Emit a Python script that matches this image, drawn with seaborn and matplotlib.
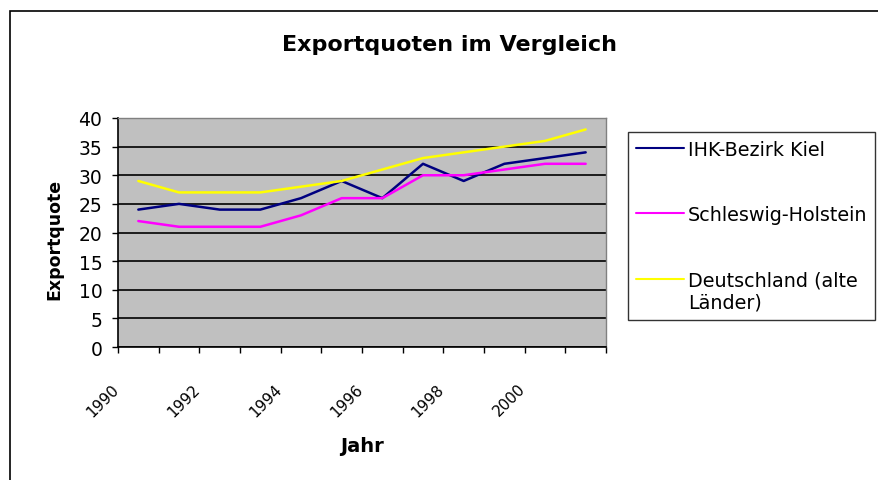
import numpy as np
import pandas as pd
import seaborn as sns
import matplotlib
matplotlib.use("Agg")
import matplotlib.pyplot as plt
from matplotlib.patches import Rectangle
from matplotlib.transforms import ScaledTranslation

# Exportquoten (in %)
years = list(range(1990, 2002))
kiel = [24, 25, 24, 24, 26, 29, 26, 32, 29, 32, 33, 34]
schleswig_holstein = [22, 21, 21, 21, 23, 26, 26, 30, 30, 31, 32, 32]
deutschland = [29, 27, 27, 27, 28, 29, 31, 33, 34, 35, 36, 38]
series_names = ["IHK-Bezirk Kiel", "Schleswig-Holstein", "Deutschland (alte\nLänder)"]
series_colors = ["#000080", "#FF00FF", "#FFFF00"]
year_labels = ["1990", "1992", "1994", "1996", "1998", "2000"]
y_ticks = [0, 5, 10, 15, 20, 25, 30, 35, 40]

df = pd.DataFrame({
    "Jahr": years * 3,
    "Exportquote": kiel + schleswig_holstein + deutschland,
    "Reihe": [n for n in series_names for _ in years],
})

sns.set_style("white")
plt.rcParams["font.family"] = ["DejaVu Sans"]
plt.rcParams.update({"text.color": "black", "axes.labelcolor": "black",
                     "xtick.color": "black", "ytick.color": "black"})

W, H = 879, 481
fig = plt.figure(figsize=(W / 100, H / 100), dpi=100)
ax = fig.add_axes([118 / W, 1 - 348 / H, 488 / W, 229 / H])
ax.set_facecolor("#C0C0C0")

sns.lineplot(data=df, x="Jahr", y="Exportquote", hue="Reihe",
             hue_order=series_names, palette=series_colors,
             linewidth=1.8, ax=ax)

# category boundaries as tick marks, every 2nd one labelled
bounds = [years[0] - 0.5 + k for k in range(len(years) + 1)]
lab_map = {int(y): y for y in year_labels}
ax.set_xticks(bounds)
ax.set_xticklabels([lab_map.get(int(b + 0.5), "") for b in bounds])
ax.set_xlim(bounds[0], bounds[-1])
ax.set_ylim(0, 40)
ax.set_yticks(y_ticks)

ax.tick_params(axis="x", direction="out", length=4.3, width=1, pad=20,
               labelsize=11, labelrotation=45, bottom=True)
shift = ScaledTranslation(4 / 100, 0, fig.dpi_scale_trans)
for t in ax.get_xticklabels():
    t.set_ha("right")
    t.set_transform(t.get_transform() + shift)
ax.tick_params(axis="y", direction="out", length=4.3, width=1, pad=7,
               labelsize=13.5, left=True)

ax.yaxis.grid(True, color="black", linewidth=1.2)
ax.xaxis.grid(False)
for s in ["left", "bottom"]:
    ax.spines[s].set_color("black")
    ax.spines[s].set_linewidth(1.2)
for s in ["top", "right"]:
    ax.spines[s].set_color("#808080")
    ax.spines[s].set_linewidth(1.0)

ax.set_xlabel("Jahr", fontsize=14, fontweight="bold", va="center")
ax.xaxis.set_label_coords(0.5, (348 - 447) / 229)
ax.set_ylabel("Exportquote", fontsize=12.5, fontweight="bold", va="center")
ax.yaxis.set_label_coords((54 - 118) / 488, (348 - 239) / 229)

fig.text(450 / W, 1 - 45 / H, "Exportquoten im Vergleich", fontsize=16,
         fontweight="bold", ha="center", va="center")

handles, labels = ax.get_legend_handles_labels()
leg = ax.legend(handles, labels, loc="upper left",
                bbox_to_anchor=(628 / W, 1 - 133 / H),
                bbox_transform=fig.transFigure, borderaxespad=0,
                fontsize=13.8, frameon=True, fancybox=False, shadow=False,
                borderpad=0.42, labelspacing=2.4, handlelength=2.5,
                handletextpad=0.2)
leg.get_frame().set_edgecolor("black")
leg.get_frame().set_linewidth(1.0)
leg.get_frame().set_facecolor("white")
for t in leg.get_texts():
    t.set_linespacing(1.25)
for ln in leg.get_lines():
    ln.set_linewidth(1.5)
# put the handle of the two-line entry next to its first line
ln3 = leg.get_lines()[2]
ln3.set_ydata(np.asarray(ln3.get_ydata(), dtype=float) + 8.8)

# outer chart area frame
fig.patches.append(Rectangle((10 / W, -0.05), 1.0, 1 - 12 / H + 0.05,
                             transform=fig.transFigure, fill=False,
                             edgecolor="black", linewidth=1.2))

fig.savefig("out.png", dpi=100)
